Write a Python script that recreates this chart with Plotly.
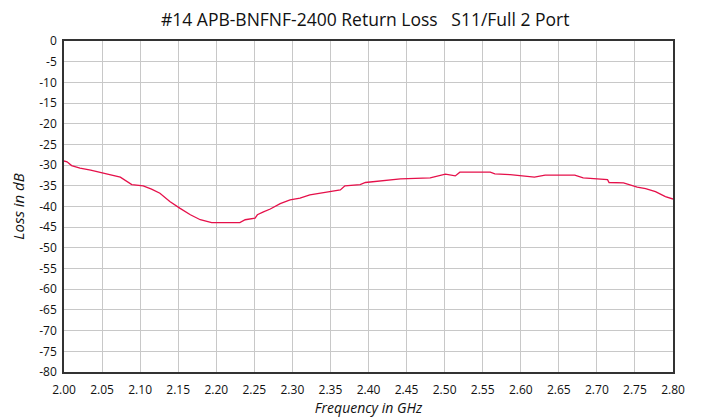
import plotly.graph_objects as go

freq_ghz = [2.000, 2.004, 2.010, 2.021, 2.035, 2.047, 2.060, 2.074, 2.089, 2.104,
            2.115, 2.126, 2.139, 2.152, 2.166, 2.179, 2.194, 2.231, 2.238, 2.251,
            2.254, 2.262, 2.271, 2.284, 2.297, 2.310, 2.323, 2.343, 2.363, 2.369,
            2.380, 2.389, 2.396, 2.415, 2.442, 2.481, 2.501, 2.514, 2.520, 2.560,
            2.566, 2.586, 2.618, 2.632, 2.671, 2.682, 2.714, 2.716, 2.735, 2.753,
            2.764, 2.777, 2.790, 2.800]
loss_db = [-29.0, -29.2, -30.1, -30.7, -31.2, -31.8, -32.3, -32.9, -34.7, -35.0,
           -35.8, -36.8, -38.8, -40.4, -42.0, -43.2, -43.9, -43.9, -43.2, -42.8,
           -42.0, -41.3, -40.6, -39.3, -38.4, -38.0, -37.2, -36.6, -36.0, -35.0,
           -34.8, -34.7, -34.2, -33.9, -33.3, -33.1, -32.2, -32.6, -31.7, -31.7,
           -32.1, -32.3, -32.9, -32.4, -32.4, -33.1, -33.5, -34.2, -34.3, -35.3,
           -35.7, -36.4, -37.6, -38.2]

x_tick_vals = [2.00, 2.05, 2.10, 2.15, 2.20, 2.25, 2.30, 2.35, 2.40,
               2.45, 2.50, 2.55, 2.60, 2.65, 2.70, 2.75, 2.80]
x_tick_labels = ["2.00", "2.05", "2.10", "2.15", "2.20", "2.25", "2.30", "2.35", "2.40",
                 "2.45", "2.50", "2.55", "2.60", "2.65", "2.70", "2.75", "2.80"]
y_tick_vals = [0, -5, -10, -15, -20, -25, -30, -35, -40,
               -45, -50, -55, -60, -65, -70, -75, -80]
y_tick_labels = ["0", "-5", "-10", "-15", "-20", "-25", "-30", "-35", "-40",
                 "-45", "-50", "-55", "-60", "-65", "-70", "-75", "-80"]

title_text = "#14 APB-BNFNF-2400 Return Loss   S11/Full 2 Port"
x_title = "Frequency in GHz"
y_title = "Loss in dB"

fig = go.Figure()
fig.add_trace(go.Scatter(
    x=freq_ghz, y=loss_db, mode="lines",
    line=dict(color="#e5104a", width=1.3),
    hoverinfo="skip", showlegend=False,
))

font_family = "Open Sans, Noto Sans, sans-serif"

fig.update_layout(
    width=695, height=410,
    margin=dict(l=56, r=30, t=33, b=46),
    paper_bgcolor="white", plot_bgcolor="white",
    title=dict(text=title_text, x=0.514, xanchor="center", y=0.972, yanchor="middle",
               font=dict(family=font_family, size=17.5, color="#111")),
    font=dict(family=font_family, size=11, color="#111"),
)
fig.update_xaxes(
    range=[2.0, 2.8], tickvals=x_tick_vals, ticktext=x_tick_labels,
    showgrid=True, gridcolor="#c8c8c8", gridwidth=1,
    showline=True, linecolor="#333", linewidth=1.5, mirror=True,
    ticks="", zeroline=False, automargin=False, ticklabelstandoff=6,
    title=dict(text="<i>" + x_title + "</i>", font=dict(size=14, family=font_family), standoff=5),
    tickfont=dict(size=12),
)
fig.update_yaxes(
    range=[-80, 0], tickvals=y_tick_vals, ticktext=y_tick_labels,
    showgrid=True, gridcolor="#c8c8c8", gridwidth=1,
    showline=True, linecolor="#333", linewidth=1.5, mirror=True,
    ticks="", zeroline=False, automargin=False, ticklabelstandoff=3,
    title=dict(text="<i>" + y_title + "</i>", font=dict(size=15, family=font_family), standoff=16),
    tickfont=dict(size=12),
)

fig.write_html("out.html")
